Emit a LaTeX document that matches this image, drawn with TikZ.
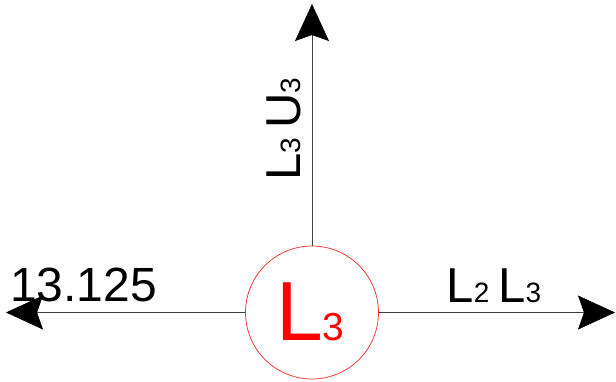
\documentclass[tikz,border=0pt]{standalone}
\usepackage{fontspec}
\setmainfont{Liberation Sans}
\usetikzlibrary{arrows.meta}
\tikzset{
  axisline/.style={line width=0.6pt, draw=black!75, -{Stealth[length=37pt,width=34pt,inset=6pt,color=black,fill=black]}},
  lbl/.style={inner sep=0pt, text=black},
}
\newcommand{\mybig}[1]{{\fontsize{49}{49}\selectfont #1}}
\newcommand{\mysml}[1]{{\fontsize{28}{28}\selectfont #1}}
\begin{document}
\begin{tikzpicture}[x=1pt,y=1pt]
\useasboundingbox (0,0) rectangle (616,381);
\node[circle, draw=red!85, line width=0.7pt, minimum size=133pt, inner sep=0pt] (c) at (312,68.5) {};
\coordinate (top) at (312,377);
\coordinate (left) at (6,68.5);
\coordinate (right) at (615,68.5);
\draw[axisline] (c.north) -- (top);
\draw[axisline] (c.west) -- (left);
\draw[axisline] (c.east) -- (right);
\node[lbl, text=red, anchor=base west] (cl) at (276,40.3) {{\fontsize{84}{84}\selectfont L}{\fontsize{39}{39}\selectfont 3}};
\node[lbl, anchor=base west] (num) at (10,80) {\fontsize{48}{48}\selectfont 13.125};
\node[lbl, anchor=base west] (rl) at (446.4,78.3) {\mybig{L}\mysml{2}\hspace{9pt}\mybig{L}\mysml{3}};
\node[lbl, anchor=base west, rotate=90] (vl) at (300,200.4) {\mybig{L}\mysml{3}\hspace{9pt}\mybig{U}\mysml{3}};
\end{tikzpicture}
\end{document}
